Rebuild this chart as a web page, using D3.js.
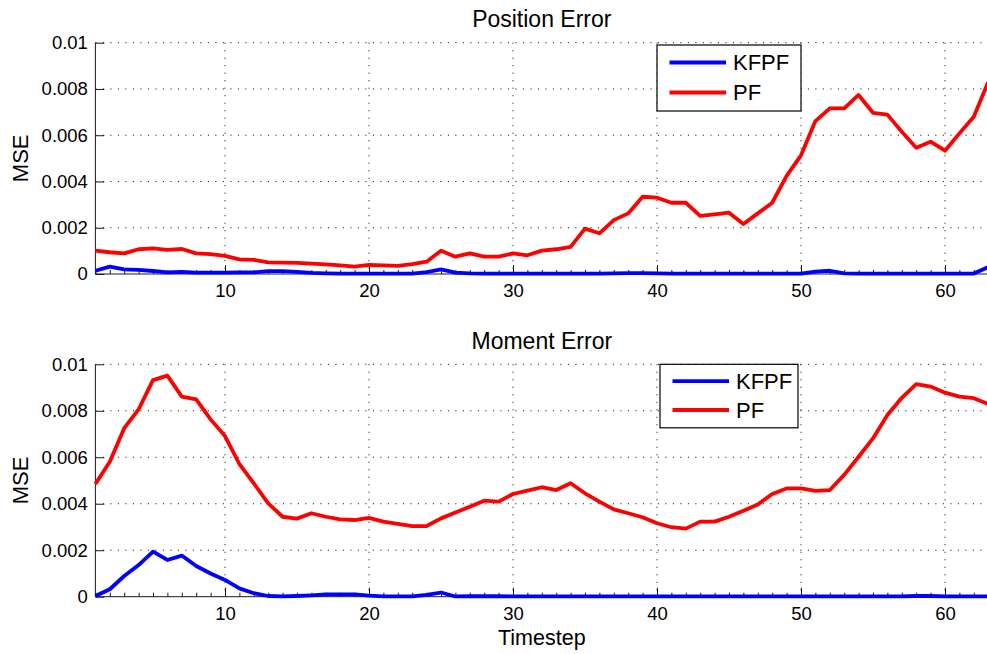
<!DOCTYPE html>
<html>
<head>
<meta charset="utf-8">
<script src="https://cdn.jsdelivr.net/npm/d3@7"></script>
<style>
  html, body { margin: 0; padding: 0; background: #fff; overflow: hidden; }
  svg { display: block; }
  text { font-family: "Liberation Sans", Arial, Helvetica, sans-serif; fill: #000; }
</style>
</head>
<body>
<svg id="chart" width="987" height="654"></svg>
<script>
// ---------- data ----------
const timesteps = d3.range(1, 64); // 1..63
const seriesNames = ["KFPF", "PF"];
const seriesColors = ["#0000ff", "#ff0000"];
const xTicks = [10, 20, 30, 40, 50, 60];
const yTicks = [0, 0.002, 0.004, 0.006, 0.008, 0.01];
const yTickLabels = ["0", "0.002", "0.004", "0.006", "0.008", "0.01"];
const panelTitles = ["Position Error", "Moment Error"];

// values in units of 1e-3
const posKFPF = [0.14,0.32,0.20,0.18,0.13,0.07,0.09,0.06,0.06,0.06,0.07,0.07,0.12,0.12,0.09,0.05,0.03,0.02,0.02,0.02,0.02,0.02,0.02,0.08,0.20,0.06,0.03,0.02,0.02,0.02,0.02,0.02,0.02,0.02,0.02,0.02,0.03,0.04,0.04,0.03,0.02,0.02,0.02,0.02,0.02,0.02,0.02,0.02,0.02,0.02,0.10,0.14,0.03,0.02,0.02,0.02,0.02,0.02,0.02,0.02,0.02,0.02,0.30];
const posPF = [1.01,0.94,0.89,1.07,1.11,1.04,1.08,0.89,0.86,0.78,0.63,0.61,0.50,0.49,0.48,0.45,0.42,0.37,0.32,0.39,0.37,0.35,0.43,0.53,1.01,0.75,0.89,0.75,0.75,0.89,0.81,1.01,1.07,1.17,1.96,1.76,2.33,2.62,3.34,3.30,3.08,3.08,2.51,2.58,2.65,2.16,2.62,3.08,4.24,5.13,6.61,7.16,7.16,7.74,6.97,6.89,6.15,5.46,5.72,5.33,6.08,6.80,8.30];
const momKFPF = [0.03,0.32,0.89,1.36,1.94,1.58,1.77,1.32,1.00,0.72,0.36,0.15,0.03,0.01,0.03,0.06,0.10,0.10,0.10,0.05,0.01,0.01,0.01,0.08,0.18,0.01,0.02,0.02,0.02,0.01,0.01,0.01,0.01,0.01,0.01,0.01,0.01,0.01,0.01,0.01,0.01,0.01,0.01,0.01,0.01,0.01,0.01,0.01,0.01,0.01,0.01,0.01,0.01,0.01,0.01,0.01,0.01,0.03,0.03,0.01,0.01,0.01,0.01];
const momPF = [4.85,5.81,7.25,8.06,9.32,9.51,8.61,8.49,7.63,6.91,5.71,4.88,4.02,3.44,3.36,3.59,3.44,3.33,3.30,3.39,3.23,3.13,3.04,3.04,3.37,3.62,3.87,4.13,4.09,4.42,4.56,4.71,4.59,4.88,4.45,4.09,3.76,3.59,3.42,3.16,2.99,2.93,3.23,3.23,3.44,3.70,3.97,4.42,4.66,4.66,4.55,4.59,5.24,6.02,6.81,7.82,8.56,9.15,9.04,8.78,8.61,8.54,8.29];

const panels = [
  { title: panelTitles[0], series: [posKFPF, posPF], top: 42.7, bottom: 274, legend: { x: 657, y: 45, w: 144, h: 66 } },
  { title: panelTitles[1], series: [momKFPF, momPF], top: 364.3, bottom: 596.7, legend: { x: 660, y: 364.3, w: 138, h: 63.5 } }
];

// ---------- drawing ----------
const svg = d3.select("#chart");
const left = 95.4, right = 988.2;
const x = d3.scaleLinear().domain([1, 63]).range([left, right]);
const axisColor = "#1a1a1a";
const fontFam = '"Liberation Sans", Arial, sans-serif';

panels.forEach((p, pi) => {
  const y = d3.scaleLinear().domain([0, 0.01]).range([p.bottom, p.top]);
  const g = svg.append("g");

  // grid lines
  g.selectAll(".hgrid").data(yTicks.filter(v => v > 0)).enter().append("line")
    .attr("x1", left).attr("x2", 987)
    .attr("y1", d => y(d)).attr("y2", d => y(d))
    .attr("stroke", "#000").attr("stroke-width", 1)
    .attr("stroke-dasharray", "1,6.5");
  g.selectAll(".vgrid").data(xTicks).enter().append("line")
    .attr("x1", d => x(d)).attr("x2", d => x(d))
    .attr("y1", p.top).attr("y2", p.bottom)
    .attr("stroke", "#000").attr("stroke-width", 1)
    .attr("stroke-dasharray", "1,6.5");

  // axes via d3 axis generators
  const xAxis = d3.axisBottom(x).tickValues(xTicks).tickSize(-9).tickPadding(10).tickFormat(d3.format("d"));
  const gx = g.append("g").attr("transform", `translate(0,${p.bottom})`).call(xAxis);
  gx.select(".domain").remove();
  gx.selectAll("line").attr("stroke", axisColor);
  gx.selectAll("text").attr("font-size", 18.5).attr("fill", "#000").attr("dy", "0.72em")
    .style("font-family", fontFam);

  // minor ticks
  const xMinor = d3.axisBottom(x).tickValues(timesteps.filter(t => !xTicks.includes(t))).tickSize(-4).tickFormat("");
  const gxm = g.append("g").attr("transform", `translate(0,${p.bottom})`).call(xMinor);
  gxm.select(".domain").remove();
  gxm.selectAll("line").attr("stroke", axisColor);

  const yAxis = d3.axisLeft(y).tickValues(yTicks).tickSize(-9).tickPadding(7.5)
    .tickFormat((d, i) => yTickLabels[i]);
  const gy = g.append("g").attr("transform", `translate(${left},0)`).call(yAxis);
  gy.select(".domain").remove();
  gy.selectAll("line").attr("stroke", axisColor);
  gy.selectAll("text").attr("font-size", 18.5).attr("fill", "#000")
    .style("font-family", fontFam);

  // axis lines
  g.append("line").attr("x1", left).attr("x2", left).attr("y1", p.top).attr("y2", p.bottom)
    .attr("stroke", axisColor).attr("stroke-width", 1);
  g.append("line").attr("x1", left).attr("x2", 987).attr("y1", p.bottom).attr("y2", p.bottom)
    .attr("stroke", axisColor).attr("stroke-width", 1);

  // series lines
  const line = d3.line().x((d, i) => x(timesteps[i])).y(d => y(d / 1000));
  p.series.forEach((s, si) => {
    g.append("path").datum(s)
      .attr("d", line)
      .attr("fill", "none")
      .attr("stroke", seriesColors[si])
      .attr("stroke-width", 3.8)
      .attr("stroke-linejoin", "round");
  });

  // title
  g.append("text").attr("x", (left + right) / 2).attr("y", p.top - 15.5)
    .attr("text-anchor", "middle").attr("font-size", 23).text(p.title);

  // y label
  g.append("text")
    .attr("transform", `translate(28,${(p.top + p.bottom) / 2}) rotate(-90)`)
    .attr("text-anchor", "middle").attr("font-size", 22).text("MSE");

  // legend
  const L = p.legend;
  const lg = g.append("g");
  lg.append("rect").attr("x", L.x).attr("y", L.y).attr("width", L.w).attr("height", L.h)
    .attr("fill", "#fff").attr("stroke", "#000").attr("stroke-width", 1.2);
  seriesNames.forEach((name, si) => {
    const ly = L.y + L.h * (si === 0 ? 0.265 : 0.72);
    lg.append("line").attr("x1", L.x + 12.5).attr("x2", L.x + 69)
      .attr("y1", ly).attr("y2", ly)
      .attr("stroke", seriesColors[si]).attr("stroke-width", 3.8);
    lg.append("text").attr("x", L.x + 76).attr("y", ly).attr("dy", "0.36em")
      .attr("font-size", 22).text(name);
  });
});

// x label
svg.append("text").attr("x", (left + right) / 2).attr("y", 645)
  .attr("text-anchor", "middle").attr("font-size", 21.5).text("Timestep");
</script>
</body>
</html>
